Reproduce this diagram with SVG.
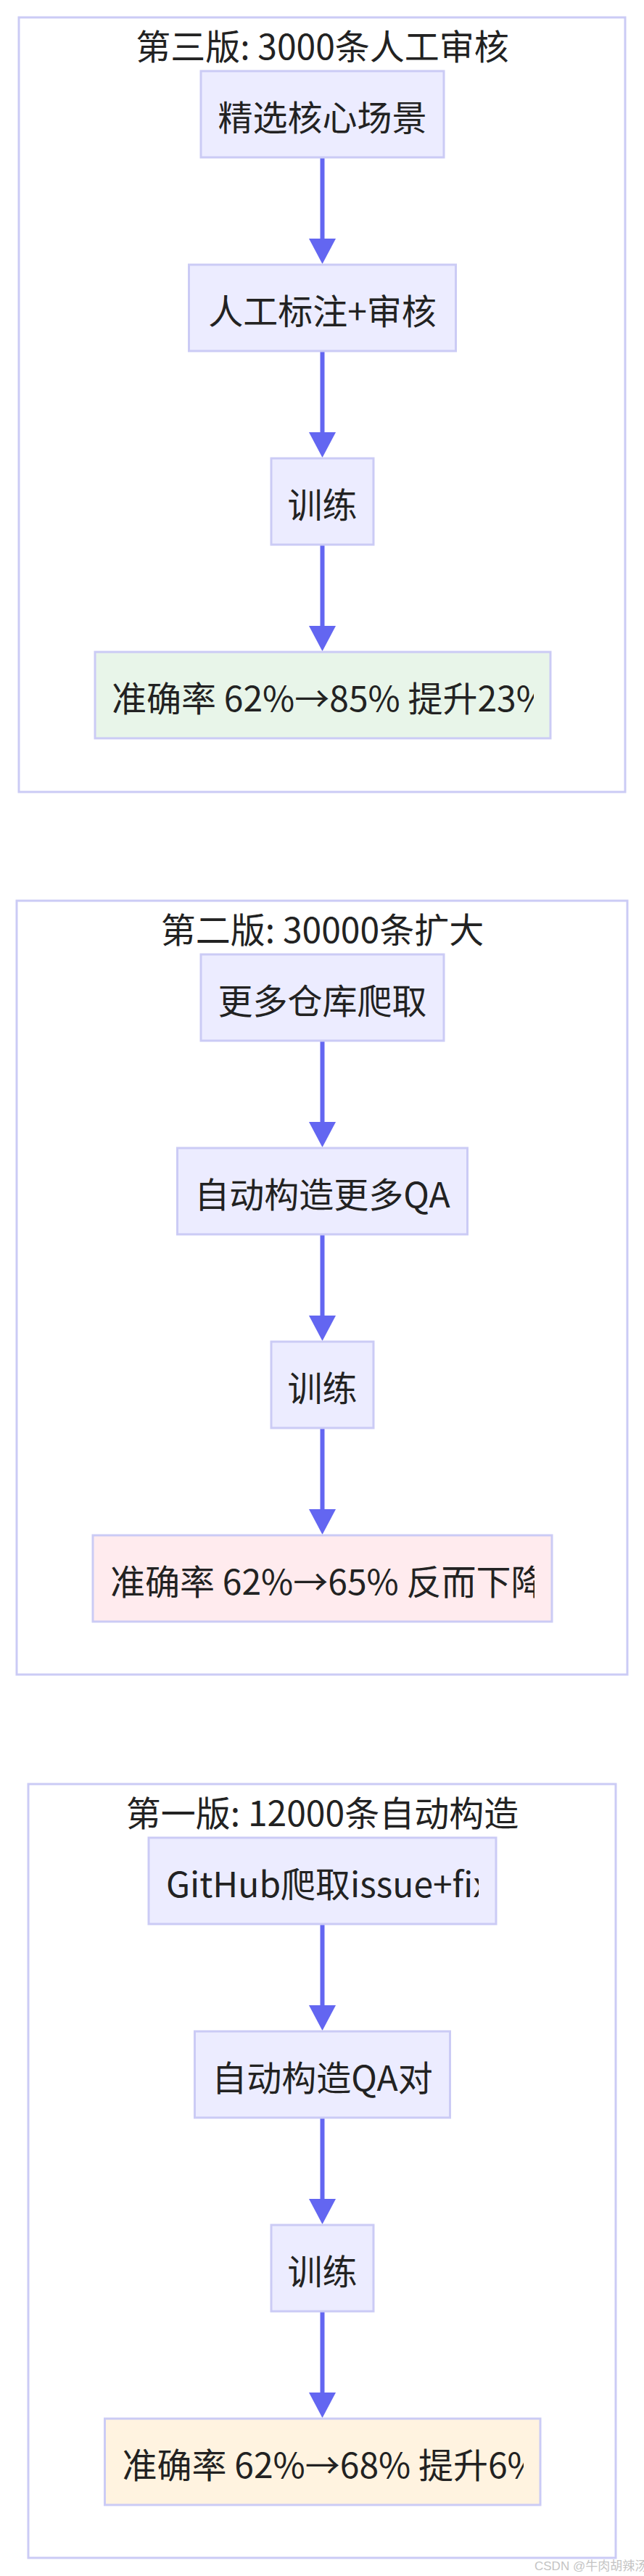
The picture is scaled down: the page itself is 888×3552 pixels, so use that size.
<svg xmlns="http://www.w3.org/2000/svg" width="888" height="3552" viewBox="0 0 888 3552">
<style>
.cluster{fill:#ffffff;stroke:#cbcbf5;stroke-width:3}
.node{fill:#ececff;stroke:#cbcbf5;stroke-width:3}
.good{fill:#e8f5e9}
.bad{fill:#ffebee}
.mid{fill:#fff3e0}
.t{font-family:"Noto Sans CJK SC","Noto Sans",sans-serif;font-size:48px;fill:#222222}
.c{text-anchor:middle}
.edge{fill:none;stroke:#6366f1;stroke-width:6}
.wm{font-family:"Liberation Sans","Noto Sans CJK SC",sans-serif;font-size:17px;fill:#c4c4c4}
</style>
<defs>
<marker id="arrow" viewBox="0 0 35 37" markerUnits="userSpaceOnUse" markerWidth="35" markerHeight="37" refX="11" refY="18.5" orient="auto">
<path d="M0,0 L35,18.5 L0,37 z" fill="#6366f1"/>
</marker>
<clipPath id="clipR1"><rect x="131" y="899" width="605" height="119"/></clipPath>
<clipPath id="clipR2"><rect x="128" y="2117" width="609" height="119"/></clipPath>
<clipPath id="clipG"><rect x="205" y="2534" width="455" height="119"/></clipPath>
<clipPath id="clipR3"><rect x="144.5" y="3335" width="577.5" height="119"/></clipPath>
</defs>

<g id="cluster-v3">
<rect class="cluster" x="26" y="24" width="836" height="1068"/>
<text class="t c" x="444.5" y="82">第三版: 3000条人工审核</text>
</g>
<g id="cluster-v2">
<rect class="cluster" x="23" y="1242" width="842" height="1067"/>
<text class="t c" x="444.5" y="1300">第二版: 30000条扩大</text>
</g>
<g id="cluster-v1">
<rect class="cluster" x="39" y="2460" width="810" height="1067"/>
<text class="t c" x="444.5" y="2518">第一版: 12000条自动构造</text>
</g>

<g id="edges">
<path class="edge" d="M444.5,217 L444.5,340" marker-end="url(#arrow)"/>
<path class="edge" d="M444.5,484 L444.5,607" marker-end="url(#arrow)"/>
<path class="edge" d="M444.5,751 L444.5,874" marker-end="url(#arrow)"/>
<path class="edge" d="M444.5,1435 L444.5,1558" marker-end="url(#arrow)"/>
<path class="edge" d="M444.5,1702 L444.5,1825" marker-end="url(#arrow)"/>
<path class="edge" d="M444.5,1969 L444.5,2092" marker-end="url(#arrow)"/>
<path class="edge" d="M444.5,2653 L444.5,2776" marker-end="url(#arrow)"/>
<path class="edge" d="M444.5,2920 L444.5,3043" marker-end="url(#arrow)"/>
<path class="edge" d="M444.5,3187 L444.5,3310" marker-end="url(#arrow)"/>
</g>

<g id="v3-select">
<rect class="node" x="277" y="98" width="335" height="119"/>
<text class="t c" x="444.5" y="180">精选核心场景</text>
</g>
<g id="v3-label">
<rect class="node" x="260.5" y="365" width="368" height="119"/>
<text class="t c" x="444.5" y="447">人工标注+审核</text>
</g>
<g id="v3-train">
<rect class="node" x="374" y="632" width="141" height="119"/>
<text class="t c" x="444.5" y="714">训练</text>
</g>
<g id="v3-result">
<rect class="node good" x="131" y="899" width="628" height="119"/>
<text class="t" x="154" y="981" clip-path="url(#clipR1)">准确率 62%→85% 提升23%</text>
</g>

<g id="v2-crawl">
<rect class="node" x="277" y="1316" width="335" height="119"/>
<text class="t c" x="444.5" y="1398">更多仓库爬取</text>
</g>
<g id="v2-gen">
<rect class="node" x="244.5" y="1583" width="400" height="119"/>
<text class="t c" x="444.5" y="1665">自动构造更多QA</text>
</g>
<g id="v2-train">
<rect class="node" x="374" y="1850" width="141" height="119"/>
<text class="t c" x="444.5" y="1932">训练</text>
</g>
<g id="v2-result">
<rect class="node bad" x="128" y="2117" width="633" height="119"/>
<text class="t" x="152" y="2199" clip-path="url(#clipR2)">准确率 62%→65% 反而下降</text>
</g>

<g id="v1-crawl">
<rect class="node" x="205" y="2534" width="479" height="119"/>
<text class="t" x="229" y="2616" clip-path="url(#clipG)">GitHub爬取issue+fix</text>
</g>
<g id="v1-gen">
<rect class="node" x="268.5" y="2801" width="352" height="119"/>
<text class="t c" x="444.5" y="2883">自动构造QA对</text>
</g>
<g id="v1-train">
<rect class="node" x="374" y="3068" width="141" height="119"/>
<text class="t c" x="444.5" y="3150">训练</text>
</g>
<g id="v1-result">
<rect class="node mid" x="144.5" y="3335" width="600.5" height="119"/>
<text class="t" x="168.5" y="3417" clip-path="url(#clipR3)">准确率 62%→68% 提升6%</text>
</g>

<text class="wm" x="737" y="3544">CSDN @牛肉胡辣汤</text>
</svg>
